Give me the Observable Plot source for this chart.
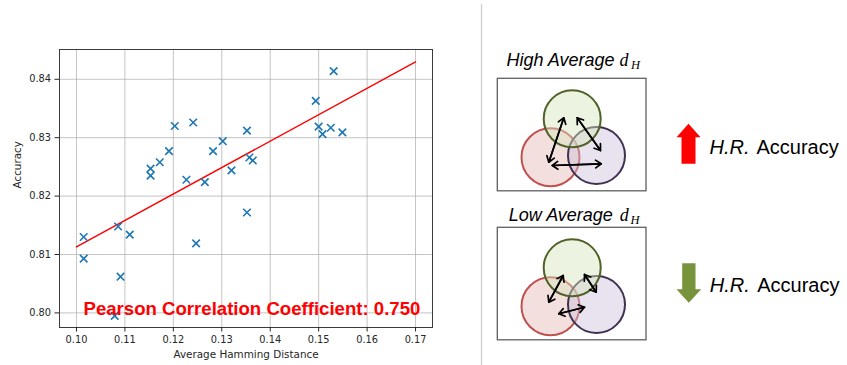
<!DOCTYPE html>
<html><head><meta charset="utf-8">
<script src="https://cdn.jsdelivr.net/npm/d3@7"></script>
<script src="https://cdn.jsdelivr.net/npm/@observablehq/plot@0.6"></script>
<style>
body{margin:0;background:#fff;}
#wrap{position:relative;width:847px;height:365px;overflow:hidden;background:#fff;}
#left{position:absolute;left:0;top:0;}
#right{position:absolute;left:480px;top:0;}
</style></head><body>
<div id="wrap"><div id="left"></div><div id="right"></div></div>
<script>
// ---------- scatter data ----------
const hamming = [0.1015,0.1015,0.1086,0.1110,0.1091,0.1079,0.1247,0.1153,0.1153,0.1172,0.1191,0.1203,0.1241,0.1227,0.1265,0.1282,0.1302,0.1352,0.1320,0.1357,0.1364,0.1352,0.1494,0.1531,0.1500,0.1508,0.1525,0.1549];
const accuracy = [0.8130,0.8093,0.8148,0.8134,0.8062,0.7995,0.8119,0.8247,0.8235,0.8258,0.8277,0.8320,0.8326,0.8228,0.8224,0.8277,0.8294,0.8312,0.8244,0.8266,0.8261,0.8172,0.8363,0.8414,0.8319,0.8306,0.8317,0.8309];
const fitHamming = [0.10, 0.17];
const fitAccuracy = [0.8113, 0.8430];
const xTicks = [0.10,0.11,0.12,0.13,0.14,0.15,0.16,0.17];
const yTicks = [0.80,0.81,0.82,0.83,0.84];
const xLabel = "Average Hamming Distance";
const yLabel = "Accuracy";
const annotation = "Pearson Correlation Coefficient: 0.750";

// ---------- diagram content ----------
const panelTitles = ["High Average", "Low Average"];
const symbolD = "d", symbolSub = "H";
const outcomeItalic = "H.R.", outcomeText = "Accuracy";
const setStroke = ["#c0504d", "#403152", "#4f6228"];
const setFill = ["#e6b9b8", "#ccc1da", "#d7e4bd"];

const points = hamming.map((h, i) => ({h, a: accuracy[i]}));
const fit = fitHamming.map((h, i) => ({h, a: fitAccuracy[i]}));
const fmt = d3.format(".2f");

const scatter = Plot.plot({
  width: 481, height: 365,
  marginLeft: 59, marginRight: 49, marginTop: 49, marginBottom: 38,
  style: {fontFamily: "DejaVu Sans, sans-serif", fontSize: "9.8px", color: "#262626", background: "white"},
  x: {domain: [0.0965, 0.1735]},
  y: {domain: [0.7975, 0.8451]},
  marks: [
    Plot.gridX(xTicks, {stroke: "#b0b0b0", strokeOpacity: 0.75, strokeWidth: 1}),
    Plot.gridY(yTicks, {stroke: "#b0b0b0", strokeOpacity: 0.75, strokeWidth: 1}),
    Plot.frame({stroke: "#3a3a3a", strokeWidth: 1}),
    Plot.axisX(xTicks, {tickFormat: fmt, tickSize: 4.5, tickPadding: 4.3, label: null}),
    Plot.axisY(yTicks, {tickFormat: fmt, tickSize: 4.5, tickPadding: 4, label: null}),
    Plot.line(fit, {x: "h", y: "a", stroke: "#ff0000", strokeWidth: 1.4}),
    Plot.dot(points, {x: "h", y: "a", symbol: "times", r: 3.5, stroke: "#1f77b4", strokeWidth: 1.6}),
    Plot.text([annotation], {frameAnchor: "bottom-left", dx: 24, dy: -13, lineAnchor: "bottom", textAnchor: "start",
      fill: "#ff0000", fontWeight: "bold", fontSize: 18.6, fontFamily: "Liberation Sans, Arial, sans-serif"}),
    Plot.text([xLabel], {frameAnchor: "bottom", dy: 30.5, lineAnchor: "bottom", fontSize: 10.4}),
    Plot.text([yLabel], {frameAnchor: "left", dx: -42, rotate: -90, fontSize: 10.4})
  ]
});
document.getElementById("left").appendChild(scatter);

// ---------- diagram layout (panel pixel units) ----------
const boxTop = [78.3, 227.3];
const boxes = boxTop.map(t => ({x1: 497.3, x2: 646, y1: t, y2: t + 112.5}));
const circleOffsets = [
  {dx: 550, dy: 78.4, r: 29},
  {dx: 596, dy: 76.7, r: 28.5},
  {dx: 571.7, dy: 40, r: 28.5}
];
const circles = boxTop.flatMap(t => circleOffsets.map((c, i) => ({cx: c.dx, cy: t + c.dy, r: c.r, fill: setFill[i], stroke: setStroke[i]})));
const links = [
  {x1: 548.3, y1: 161.7, x2: 563.3, y2: 117.3},
  {x1: 576.7, y1: 117.3, x2: 600, y2: 150},
  {x1: 551.7, y1: 165, x2: 600.7, y2: 163.3},
  {x1: 548.3, y1: 301.7, x2: 562.7, y2: 275},
  {x1: 584, y1: 274, x2: 595.7, y2: 291.7},
  {x1: 558.3, y1: 313.3, x2: 584, y2: 306.7}
];
const upArrow = [[688,123.3],[700,136.7],[695,136.7],[695,163.3],[681,163.3],[681,136.7],[676,136.7]].map(([x,y]) => ({x, y}));
const downArrow = [[681.7,262.7],[695,262.7],[695,288.8],[700.7,288.8],[688.3,302.3],[676,288.8],[681.7,288.8]].map(([x,y]) => ({x, y}));
const titleBase = [65.7, 220.7];
const outcomeBase = [153.3, 291];

const sans = "Liberation Sans, Arial, sans-serif";
const serif = "Liberation Serif, Times New Roman, serif";

const diagram = Plot.plot({
  width: 367, height: 365, margin: 0,
  x: {domain: [480, 847], range: [0, 367], axis: null},
  y: {domain: [0, 365], range: [0, 365], axis: null},
  r: {type: "identity"},
  color: {type: "identity"},
  style: {background: "transparent"},
  marks: [
    Plot.ruleX([481], {y1: 4, y2: 365, stroke: "#d0d0d0", strokeWidth: 1.3}),
    Plot.rect(boxes, {x1: "x1", x2: "x2", y1: "y1", y2: "y2", fill: "white", stroke: "#5f5f5f", strokeWidth: 1.3}),
    Plot.dot(circles, {x: "cx", y: "cy", r: "r", fill: "fill", stroke: "stroke", fillOpacity: 0.45, strokeWidth: 2}),
    Plot.arrow(links, {x1: "x1", y1: "y1", x2: "x2", y2: "y2", headLength: 6, headAngle: 70, strokeWidth: 1.7, stroke: "black"}),
    Plot.arrow(links, {x1: "x2", y1: "y2", x2: "x1", y2: "y1", headLength: 6, headAngle: 70, strokeWidth: 1.7, stroke: "black"}),
    Plot.line(upArrow, {x: "x", y: "y", curve: "linear-closed", fill: "#ff0000", stroke: "none"}),
    Plot.line(downArrow, {x: "x", y: "y", curve: "linear-closed", fill: "#77933c", stroke: "none"}),
    Plot.text(panelTitles, {x: [506, 508.3], y: titleBase, text: d => d, textAnchor: "start", lineAnchor: "bottom",
      fontStyle: "italic", fontSize: 18, fontFamily: sans, fill: "black"}),
    Plot.text([symbolD, symbolD], {x: [619, 619.3], y: titleBase, text: d => d, textAnchor: "start", lineAnchor: "bottom",
      fontStyle: "italic", fontSize: 18, fontFamily: serif, fill: "black"}),
    Plot.text([symbolSub, symbolSub], {x: [630.5, 630], y: titleBase.map(b => b + 3), text: d => d, textAnchor: "start", lineAnchor: "bottom",
      fontStyle: "italic", fontSize: 12.5, fontFamily: serif, fill: "black"}),
    Plot.text([outcomeItalic, outcomeItalic], {x: [709, 709.3], y: outcomeBase, text: d => d, textAnchor: "start", lineAnchor: "bottom",
      fontStyle: "italic", fontSize: 20, fontFamily: sans, fill: "black"}),
    Plot.text([outcomeText, outcomeText], {x: [756, 756.7], y: outcomeBase, text: d => d, textAnchor: "start", lineAnchor: "bottom",
      fontSize: 20, fontFamily: sans, fill: "black"})
  ]
});
document.getElementById("right").appendChild(diagram);
</script>
</body></html>
